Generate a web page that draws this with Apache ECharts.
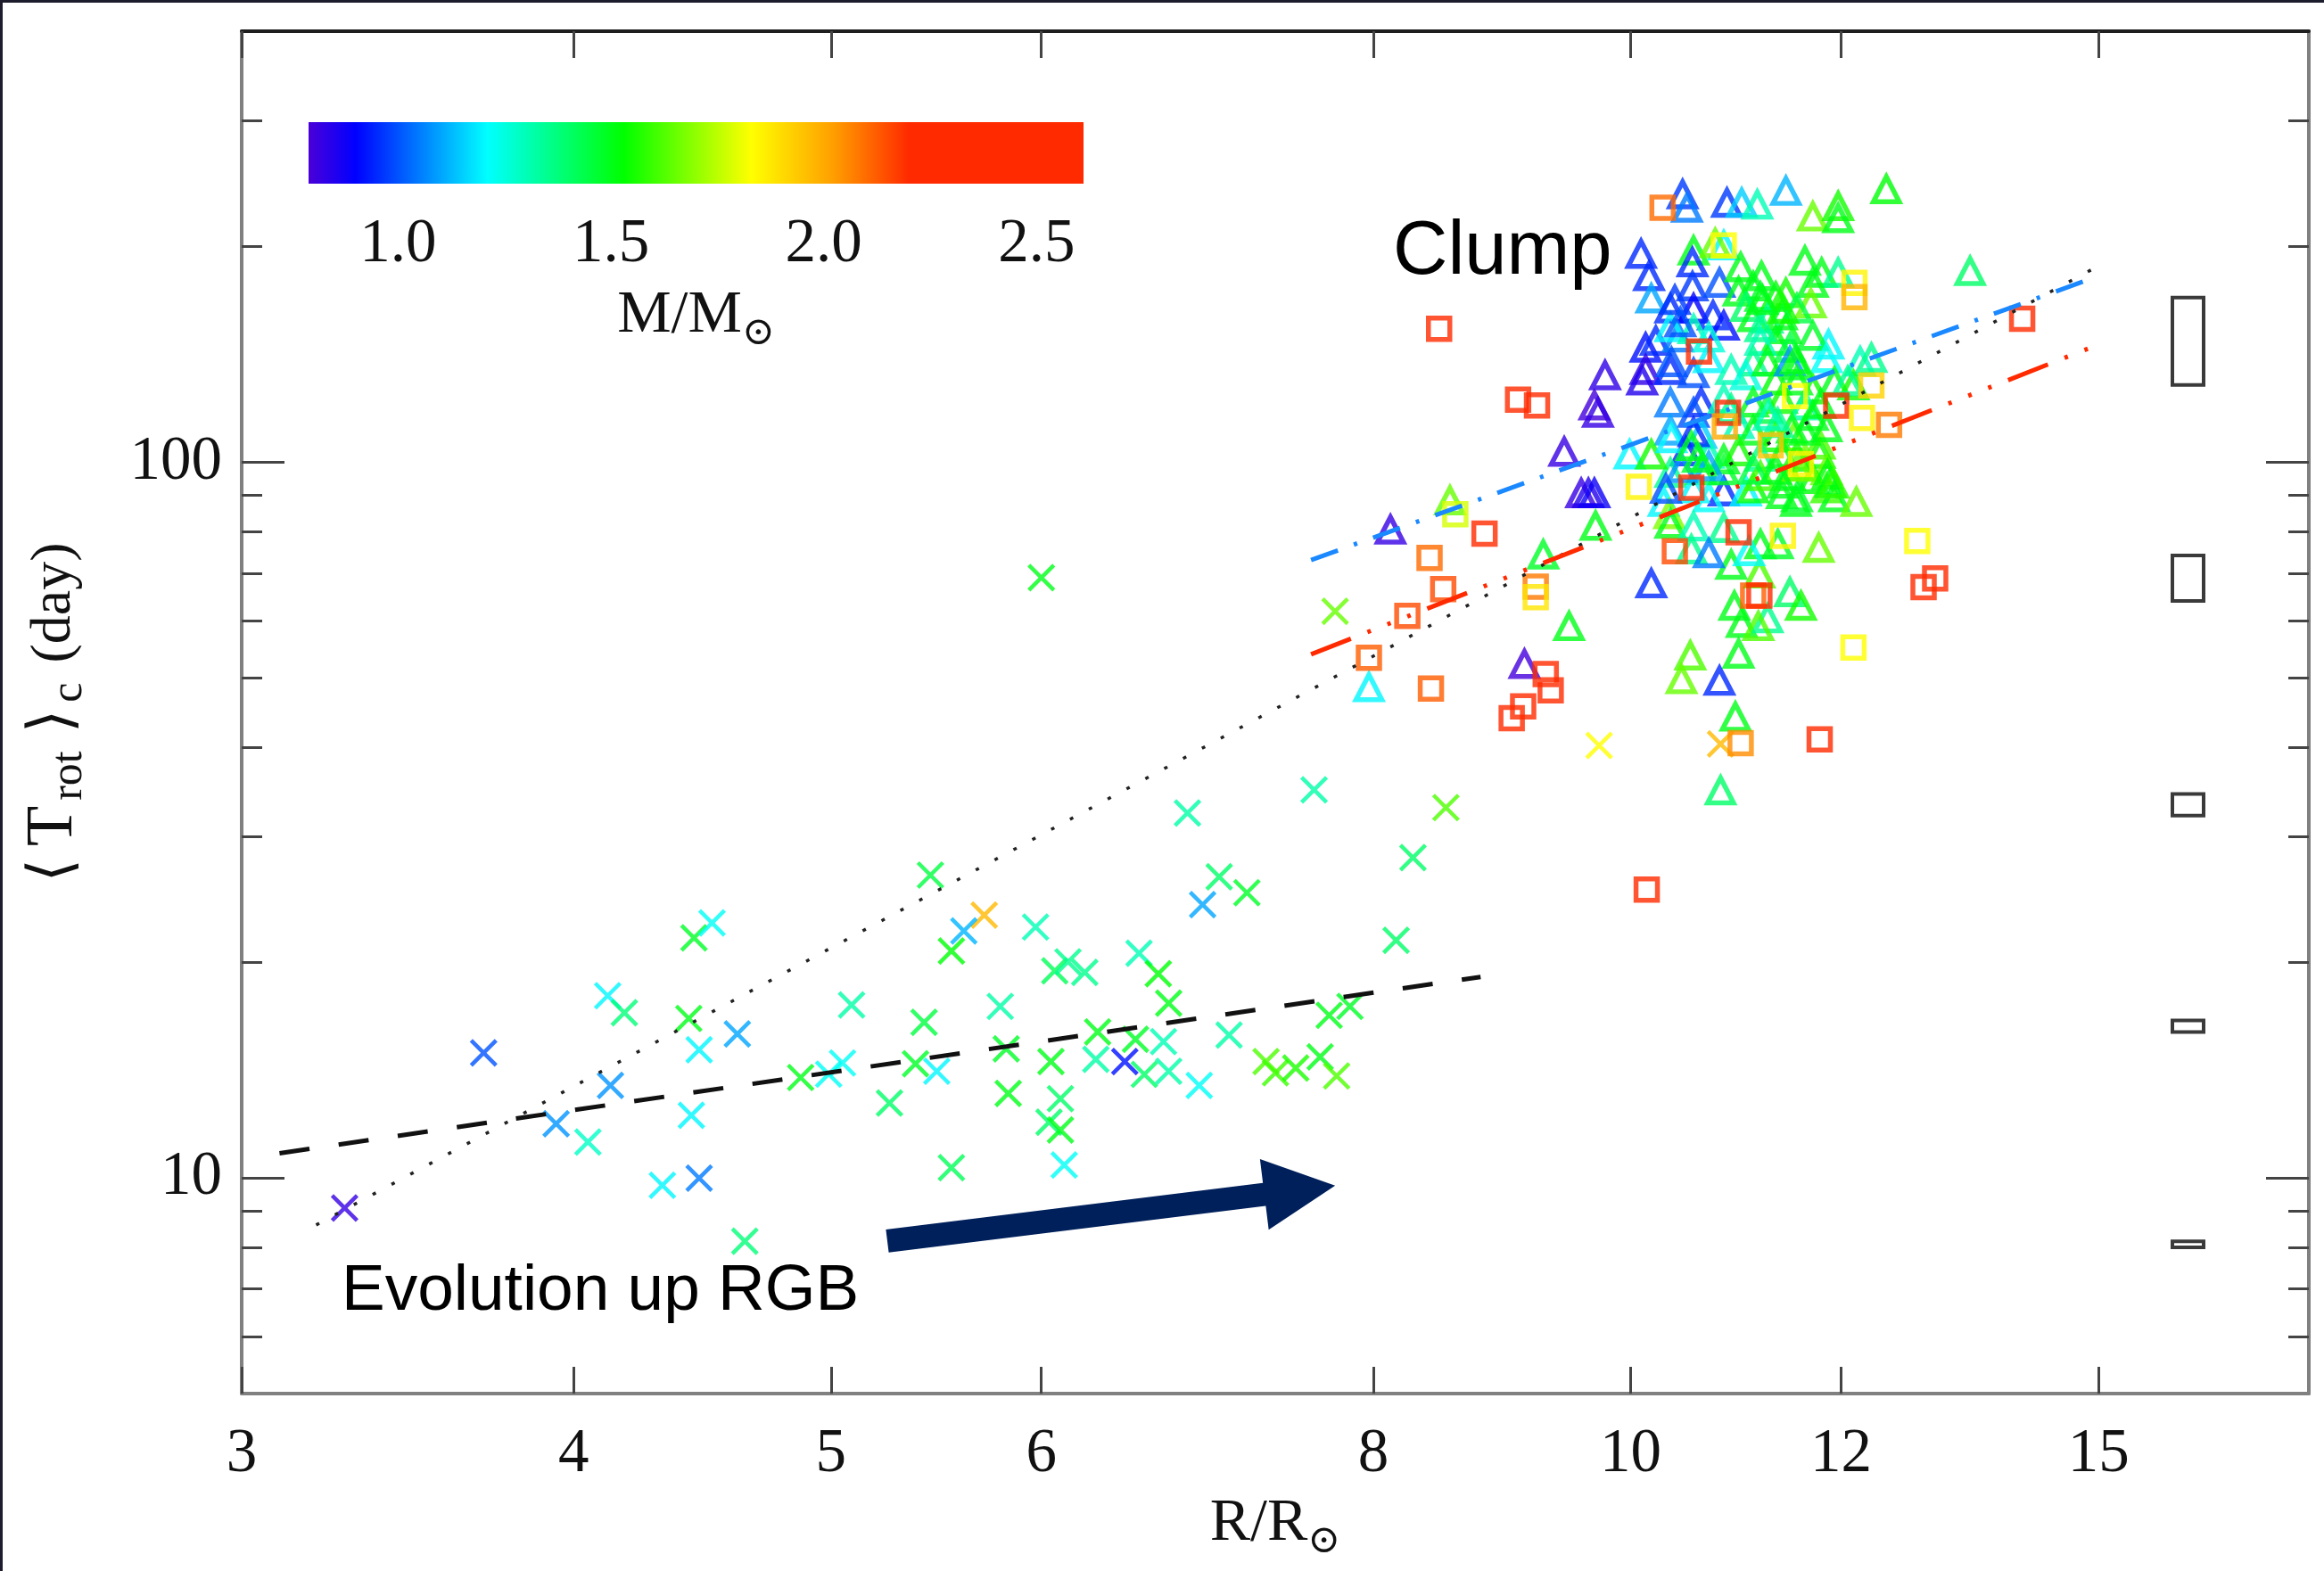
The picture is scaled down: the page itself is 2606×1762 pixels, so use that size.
<!DOCTYPE html>
<html>
<head>
<meta charset="utf-8">
<title>Core rotation period versus stellar radius</title>
<script src="https://cdn.jsdelivr.net/npm/echarts@6/dist/echarts.min.js"></script>
<style>
  html, body { margin: 0; padding: 0; background: #ffffff; }
  #chart { width: 2606px; height: 1762px; }
</style>
</head>
<body>
<div id="chart"></div>
<script>
// ---- data: [R/Rsun, <Trot>_c (day), M/Msun] ----
// red-giant-branch stars (crosses)
const rgbStars = [
  [3.28, 9.08, 0.82], [3.70, 14.96, 1.00], [4.12, 17.98, 1.20], [4.18, 17.02, 1.38], [4.13, 13.47, 1.08],
  [3.94, 11.91, 1.08], [4.05, 11.23, 1.28], [4.44, 21.65, 1.48], [4.51, 22.72, 1.22], [4.42, 16.71, 1.50],
  [4.46, 15.11, 1.20], [4.61, 15.90, 1.10], [4.43, 12.24, 1.20], [4.32, 9.77, 1.20], [4.46, 10.00, 1.05],
  [4.64, 8.16, 1.38], [4.87, 13.82, 1.50], [4.99, 13.97, 1.22], [5.05, 14.48, 1.22], [5.09, 17.45, 1.32],
  [5.45, 26.50, 1.45], [5.71, 23.30, 1.97], [5.61, 22.14, 1.12], [5.55, 20.76, 1.52], [5.97, 22.42, 1.30],
  [6.81, 32.35, 1.32], [7.60, 34.85, 1.32], [8.52, 32.93, 1.62], [8.28, 28.03, 1.40], [7.00, 26.36, 1.40],
  [7.17, 25.04, 1.48], [6.90, 24.10, 1.10], [8.16, 21.48, 1.40], [6.07, 19.48, 1.42], [6.14, 20.05, 1.35],
  [6.23, 19.38, 1.35], [6.53, 20.61, 1.30], [6.64, 19.29, 1.52], [6.70, 17.55, 1.50], [5.79, 17.37, 1.32],
  [5.42, 16.50, 1.45], [5.38, 14.44, 1.48], [5.48, 14.10, 1.20], [5.82, 15.15, 1.48], [6.05, 14.55, 1.50],
  [6.30, 16.00, 1.50], [6.29, 14.65, 1.32], [6.51, 15.63, 1.48], [6.45, 14.55, 0.92], [6.67, 15.51, 1.30],
  [6.56, 13.96, 1.40], [6.70, 14.10, 1.32], [7.06, 15.84, 1.32], [6.88, 13.47, 1.22], [7.70, 16.88, 1.50],
  [7.84, 17.37, 1.48], [7.29, 14.55, 1.62], [7.35, 14.03, 1.60], [7.48, 14.25, 1.56], [7.64, 14.77, 1.50],
  [7.75, 13.89, 1.62], [5.26, 12.73, 1.40], [5.83, 13.13, 1.50], [6.10, 12.91, 1.40], [6.04, 11.97, 1.40],
  [6.10, 11.67, 1.50], [5.55, 10.34, 1.42], [6.12, 10.43, 1.22], [6.00, 69.00, 1.50], [7.74, 61.90, 1.65],
  [9.73, 40.20, 1.83], [10.81, 40.40, 1.97]
];

// red-clump stars (triangles)
const clumpStars = [
  [10.46, 236.7, 0.97], [10.50, 226.7, 1.05], [10.87, 230.3, 0.97], [11.01, 230.3, 1.15], [11.16, 229.0, 1.30],
  [11.44, 239.3, 1.12], [11.71, 220.4, 1.65], [11.97, 227.8, 1.55], [11.97, 219.2, 1.50], [12.48, 240.6, 1.52],
  [10.09, 195.4, 0.95], [10.56, 197.5, 1.50], [10.84, 200.8, 1.20], [10.55, 190.1, 0.95], [11.63, 191.1, 1.50],
  [11.80, 183.9, 1.50], [11.97, 183.9, 1.35], [13.42, 184.9, 1.40], [10.16, 181.9, 0.95], [10.18, 169.3, 1.10],
  [10.55, 176.0, 0.97], [10.80, 178.0, 1.00], [10.98, 173.1, 1.50], [11.12, 176.0, 1.50], [11.19, 170.2, 1.48],
  [11.34, 170.2, 1.52], [11.44, 172.2, 1.55], [11.71, 178.0, 1.50], [11.69, 166.6, 1.65], [10.35, 163.9, 0.95],
  [10.56, 163.9, 0.90], [10.74, 160.3, 0.95], [10.84, 155.1, 0.92], [11.05, 164.8, 1.40], [11.12, 159.4, 1.50],
  [11.26, 158.6, 1.35], [11.40, 160.3, 1.50], [11.55, 163.9, 1.45], [11.87, 146.0, 1.20], [11.71, 150.1, 1.48],
  [11.44, 153.4, 1.50], [11.34, 147.7, 1.50], [11.48, 144.5, 1.45], [11.19, 154.4, 1.35], [11.19, 147.7, 1.30],
  [10.13, 144.5, 0.92], [10.22, 147.7, 0.95], [10.42, 149.3, 1.05], [10.35, 154.4, 1.20], [10.56, 153.4, 1.30],
  [10.70, 149.3, 1.25], [10.13, 134.5, 0.83], [10.10, 130.0, 0.85], [10.35, 134.5, 0.95], [10.56, 133.2, 1.00],
  [9.78, 132.2, 0.83], [10.70, 139.7, 1.20], [10.91, 134.5, 1.30], [11.12, 138.2, 1.35], [11.05, 132.2, 1.25],
  [11.26, 138.2, 1.50], [11.34, 130.0, 1.52], [11.48, 138.2, 1.08], [11.55, 130.0, 1.50], [11.71, 126.4, 1.55],
  [11.85, 139.7, 1.22], [12.20, 138.2, 1.30], [11.93, 129.4, 1.50], [12.13, 128.0, 1.55], [9.69, 120.0, 0.80],
  [9.72, 117.2, 0.82], [10.35, 121.1, 1.05], [10.63, 121.1, 0.95], [10.56, 117.2, 1.00], [10.84, 122.5, 1.30],
  [10.91, 118.6, 1.35], [11.12, 121.1, 1.50], [11.26, 118.6, 1.45], [11.40, 122.5, 1.55], [11.63, 120.0, 1.32],
  [11.71, 116.0, 1.50], [10.35, 110.7, 1.10], [10.63, 109.5, 1.15], [10.98, 113.0, 1.30], [11.12, 110.7, 1.50],
  [11.34, 108.3, 1.55], [11.52, 108.3, 1.65], [11.78, 105.8, 1.62], [11.63, 110.7, 1.50], [11.85, 111.9, 1.50],
  [10.49, 103.5, 0.95], [10.70, 102.7, 1.30], [10.84, 100.9, 1.50], [10.98, 103.5, 1.55], [11.19, 101.8, 1.35],
  [11.40, 102.7, 1.50], [11.55, 101.8, 1.55], [11.78, 102.7, 1.55], [11.85, 97.4, 1.65], [11.48, 95.6, 1.50],
  [11.71, 94.7, 1.52], [11.40, 90.2, 1.50], [11.55, 89.3, 1.48], [11.85, 91.9, 1.60], [11.93, 89.3, 1.50],
  [12.16, 88.0, 1.65], [10.84, 91.0, 0.95], [11.05, 91.0, 1.20], [10.35, 96.6, 1.35], [10.63, 97.4, 1.50],
  [10.56, 91.9, 1.20], [10.70, 89.3, 1.22], [11.12, 91.9, 1.52], [11.19, 95.6, 1.60], [10.84, 97.4, 1.48],
  [10.39, 168.5, 0.97], [10.44, 156.8, 1.00], [10.36, 137.9, 1.00], [9.44, 103.4, 0.82], [9.99, 102.5, 1.20],
  [10.18, 102.5, 1.55], [10.36, 108.0, 1.20], [10.45, 98.1, 1.08], [9.58, 90.5, 0.82], [9.64, 90.5, 0.85],
  [9.69, 90.5, 0.88], [8.55, 88.4, 1.65], [8.12, 80.5, 0.82], [9.70, 81.5, 1.50], [10.29, 88.0, 1.20],
  [10.34, 84.6, 1.68], [10.56, 110.1, 0.95], [10.70, 98.7, 1.10], [10.31, 91.8, 1.00], [11.12, 97.6, 1.45],
  [11.34, 97.6, 1.50], [11.63, 98.7, 1.65], [10.35, 82.0, 1.50], [10.56, 81.3, 1.30], [10.84, 80.9, 1.35],
  [11.19, 76.8, 1.50], [11.36, 76.8, 1.48], [11.77, 75.9, 1.65], [10.91, 71.9, 1.50], [11.18, 69.9, 1.62],
  [11.48, 65.8, 1.40], [11.59, 63.0, 1.55], [10.94, 63.0, 1.50], [11.01, 59.6, 1.50], [11.26, 60.5, 1.35],
  [11.17, 59.0, 1.62], [10.54, 75.5, 1.35], [10.70, 74.6, 1.05], [9.48, 59.0, 1.50], [10.53, 53.7, 1.62],
  [10.98, 54.0, 1.50], [10.45, 49.75, 1.65], [10.80, 49.5, 0.95], [10.95, 44.1, 1.50], [10.81, 34.8, 1.40],
  [9.12, 52.25, 0.80], [7.97, 48.5, 1.20], [9.27, 74.3, 1.48], [10.18, 67.7, 0.95], [11.89, 93.5, 1.50],
  [11.08, 75.1, 1.22], [12.32, 139.8, 1.35], [11.54, 139.2, 1.50], [11.41, 163.7, 1.55], [11.21, 168.5, 1.50],
  [11.00, 187.2, 1.50], [11.20, 181.9, 1.50], [10.76, 202.3, 1.65], [11.56, 136.5, 1.50], [12.07, 129.8, 1.35],
  [11.79, 120.6, 1.50], [11.50, 111.4, 1.50], [11.36, 113.4, 1.35], [11.27, 116.1, 1.30], [11.56, 98.5, 1.65],
  [11.86, 96.0, 1.52], [11.92, 93.3, 1.58], [11.41, 93.3, 1.50], [11.54, 88.0, 1.50], [10.54, 105.3, 1.50],
  [10.60, 101.4, 1.48]
];

// secondary-clump stars (squares)
const secondaryStars = [
  [10.28, 226.7, 2.10], [8.47, 153.6, 2.30], [9.07, 122.3, 2.30], [9.22, 120.0, 2.25], [10.07, 92.4, 1.85],
  [10.61, 142.8, 2.30], [10.84, 200.8, 1.83], [12.14, 178.0, 1.85], [12.14, 170.0, 1.98], [14.04, 158.6, 2.30],
  [12.32, 128.0, 1.92], [11.95, 119.9, 2.30], [12.22, 115.3, 1.85], [12.51, 112.8, 2.08], [10.88, 117.2, 2.30],
  [10.85, 112.2, 2.00], [11.29, 105.6, 1.95], [10.54, 92.1, 2.30], [8.81, 79.5, 2.30], [10.98, 79.8, 2.30],
  [11.41, 78.9, 1.85], [12.82, 77.6, 1.83], [8.40, 73.5, 2.10], [8.50, 66.5, 2.15], [8.24, 61.0, 2.15],
  [7.97, 53.3, 2.12], [8.41, 48.3, 2.12], [9.21, 67.0, 2.08], [9.21, 64.8, 1.88], [9.29, 50.6, 2.30],
  [9.33, 48.0, 2.30], [9.11, 45.6, 2.30], [9.02, 43.9, 2.30], [10.39, 75.1, 2.15], [12.89, 66.9, 2.30],
  [13.02, 68.8, 2.30], [11.12, 65.1, 2.12], [11.18, 65.1, 2.20], [12.13, 55.1, 1.83], [11.00, 40.5, 2.05],
  [11.78, 41.0, 2.30], [10.14, 25.3, 2.30], [11.53, 123.7, 1.83], [11.59, 99.4, 1.85], [8.59, 84.6, 1.78]
];

// power-law fits, end points [R, Trot]
const allStarsFit = [[3.2, 8.6], [15.0, 188]];
const rgbFit = [[3.1, 10.83], [8.78, 19.1]];
const lowMassClumpFit = [[7.58, 73.0], [15.0, 182]];
const highMassClumpFit = [[7.58, 53.9], [15.0, 146]];

// typical uncertainty boxes [R, low, high]
const errorBoxes = [
  [16.21, 128.2, 169.8], [16.21, 64.0, 74.1], [16.21, 32.1, 34.4], [16.21, 16.0, 16.6], [16.21, 8.0, 8.16]
];

// "evolution up the RGB" arrow: [R0, T0, R1, T1]
const evolutionArrow = [[5.25, 8.17, 7.74, 9.76]];

// axes
const xTicks = [3, 4, 5, 6, 8, 10, 12, 15];
const yMajorTicks = [10, 100];
const yMinorTicks = [6, 7, 8, 9, 20, 30, 40, 50, 60, 70, 80, 90, 200, 300];
const massTicks = [1.0, 1.5, 2.0, 2.5];
const massRange = [0.79, 2.61];

// colour table (mass -> colour)
const massStops = [0.79, 0.90, 1.21, 1.53, 1.83, 2.02, 2.20, 2.61];
const stopColors = ['#4a00d8', '#0000ff', '#00ffff', '#00ff00', '#ffff00', '#ffa000', '#ff2a00', '#ff2a00'];

function hexToRgb(h) {
  return [parseInt(h.slice(1, 3), 16), parseInt(h.slice(3, 5), 16), parseInt(h.slice(5, 7), 16)];
}
function massColor(m) {
  if (m <= massStops[0]) return stopColors[0];
  for (let i = 1; i < massStops.length; i++) {
    if (m <= massStops[i]) {
      const t = (m - massStops[i - 1]) / (massStops[i] - massStops[i - 1]);
      const a = hexToRgb(stopColors[i - 1]), b = hexToRgb(stopColors[i]);
      const c = a.map((v, k) => Math.round(v + (b[k] - v) * t));
      return 'rgb(' + c.join(',') + ')';
    }
  }
  return stopColors[stopColors.length - 1];
}

const SERIF = "'Liberation Serif', 'DejaVu Serif', 'Times New Roman', serif";
const SANS = "'Liberation Sans', Arial, Helvetica, sans-serif";
const TEXT = '#111111';
const AXIS_GREY = '#808080';
const TICK = '#444444';

const crossPath = 'path://M0,0L10,10M10,0L0,10';

function starItems(list, borderWidth) {
  return list.map(s => ({
    value: [s[0], s[1], s[2]],
    itemStyle: { color: 'rgba(0,0,0,0)', borderColor: massColor(s[2]), borderWidth: borderWidth }
  }));
}

const chart = echarts.init(document.getElementById('chart'), null, { renderer: 'canvas' });

const logY = { type: 'log', logBase: 10, min: 5, max: 400, gridIndex: 0, splitLine: { show: false }, minorTick: { show: false } };
const logX = { type: 'log', logBase: 10, min: 3, max: 18, gridIndex: 0, splitLine: { show: false }, minorTick: { show: false } };

const subRich = {
  m: { fontFamily: SERIF, fontSize: 68, lineHeight: 84, color: TEXT },
  s: { fontFamily: SERIF, fontSize: 44, lineHeight: 50, verticalAlign: 'bottom', color: TEXT }
};

const option = {
  animation: false,
  backgroundColor: '#ffffff',
  grid: [
    { left: 271, top: 35, width: 2318, height: 1528, containLabel: false },
    { left: 346, top: 137, width: 869, height: 69, containLabel: false }
  ],
  xAxis: [
    Object.assign({}, logX, {
      position: 'bottom',
      axisLine: { show: true, lineStyle: { color: AXIS_GREY, width: 4 } },
      axisTick: { show: true, inside: true, length: 30, customValues: xTicks, lineStyle: { color: TICK, width: 3 } },
      axisLabel: { show: true, customValues: xTicks, margin: 34, fontFamily: SERIF, fontSize: 69, color: TEXT,
        formatter: v => String(Math.round(v)) },
      name: '{m|R/R}{s|\u2299}',
      nameLocation: 'middle',
      nameGap: 104,
      nameTextStyle: { rich: { m: Object.assign({}, subRich.m, { fontSize: 68 }), s: subRich.s } }
    }),
    Object.assign({}, logX, {
      position: 'top',
      axisLine: { show: true, lineStyle: { color: '#1e1e1e', width: 4 } },
      axisTick: { show: true, inside: true, length: 30, customValues: xTicks, lineStyle: { color: TICK, width: 3 } },
      axisLabel: { show: false }
    }),
    {
      type: 'value', gridIndex: 1, min: massRange[0], max: massRange[1],
      axisLine: { show: false }, axisTick: { show: false }, splitLine: { show: false },
      axisLabel: { show: true, customValues: massTicks, margin: 34, fontFamily: SERIF, fontSize: 69, color: TEXT,
        formatter: v => Number(v).toFixed(1) },
      name: '{m|M/M}{s|\u2299}',
      nameLocation: 'middle',
      nameGap: 106,
      nameTextStyle: { rich: subRich }
    }
  ],
  yAxis: [
    Object.assign({}, logY, {
      position: 'left',
      axisLine: { show: true, lineStyle: { color: AXIS_GREY, width: 4 } },
      axisTick: { show: true, inside: true, length: 48, customValues: yMajorTicks, lineStyle: { color: TICK, width: 3 } },
      axisLabel: { show: true, customValues: yMajorTicks, margin: 22, fontFamily: SERIF, fontSize: 69, color: TEXT,
        formatter: v => String(Math.round(v)) },
      name: '{a|\u27E8}{t|T}{s|rot}{a2|\u27E9}{c|c}{d|(day)}',
      nameLocation: 'middle',
      nameRotate: 90,
      nameGap: 168,
      nameTextStyle: {
        rich: {
          a: { fontFamily: SERIF, fontSize: 68, lineHeight: 84, color: TEXT, padding: [0, 14, 0, 0] },
          t: { fontFamily: SERIF, fontSize: 74, lineHeight: 84, color: TEXT, padding: [0, 6, 0, 0] },
          s: { fontFamily: SERIF, fontSize: 50, lineHeight: 52, verticalAlign: 'bottom', color: TEXT, padding: [0, 14, 0, 0] },
          a2: { fontFamily: SERIF, fontSize: 68, lineHeight: 84, color: TEXT, padding: [0, 8, 0, 6] },
          c: { fontFamily: SERIF, fontSize: 50, lineHeight: 52, verticalAlign: 'bottom', color: TEXT, padding: [0, 22, 0, 0] },
          d: { fontFamily: SERIF, fontSize: 64, lineHeight: 84, color: TEXT }
        }
      }
    }),
    Object.assign({}, logY, {
      position: 'left',
      axisLine: { show: false },
      axisTick: { show: true, inside: true, length: 23, customValues: yMinorTicks, lineStyle: { color: TICK, width: 3 } },
      axisLabel: { show: false }
    }),
    Object.assign({}, logY, {
      position: 'right',
      axisLine: { show: true, lineStyle: { color: AXIS_GREY, width: 4 } },
      axisTick: { show: true, inside: true, length: 48, customValues: yMajorTicks, lineStyle: { color: TICK, width: 3 } },
      axisLabel: { show: false }
    }),
    Object.assign({}, logY, {
      position: 'right',
      axisLine: { show: false },
      axisTick: { show: true, inside: true, length: 23, customValues: yMinorTicks, lineStyle: { color: TICK, width: 3 } },
      axisLabel: { show: false }
    }),
    { type: 'value', gridIndex: 1, min: 0, max: 1, show: false }
  ],
  series: [
    {
      name: 'RGB', type: 'scatter', xAxisIndex: 0, yAxisIndex: 0,
      symbol: crossPath, symbolSize: 28, data: starItems(rgbStars, 4.5), z: 2, silent: true
    },
    {
      name: 'Clump', type: 'scatter', xAxisIndex: 0, yAxisIndex: 0,
      symbol: 'triangle', symbolSize: [29, 28], data: starItems(clumpStars, 5.5), z: 2, silent: true
    },
    {
      name: 'Secondary clump', type: 'scatter', xAxisIndex: 0, yAxisIndex: 0,
      symbol: 'rect', symbolSize: 24, data: starItems(secondaryStars, 5.5), z: 3, silent: true
    },
    {
      type: 'line', xAxisIndex: 0, yAxisIndex: 0, data: allStarsFit, symbol: 'none', silent: true, z: 5,
      lineStyle: { color: '#222222', width: 3.5, type: [4, 20], cap: 'butt' }
    },
    {
      type: 'line', xAxisIndex: 0, yAxisIndex: 0, data: rgbFit, symbol: 'none', silent: true, z: 5,
      lineStyle: { color: '#111111', width: 5, type: [34, 33], cap: 'butt' }
    },
    {
      type: 'line', xAxisIndex: 0, yAxisIndex: 0, data: lowMassClumpFit, symbol: 'none', silent: true, z: 5,
      lineStyle: { color: '#1a88ff', width: 5, type: [32, 19, 4, 19], cap: 'butt' }
    },
    {
      type: 'line', xAxisIndex: 0, yAxisIndex: 0, data: highMassClumpFit, symbol: 'none', silent: true, z: 5,
      lineStyle: { color: '#ff2a00', width: 5, type: [48, 20, 4, 20, 4, 20, 4, 20], cap: 'butt' }
    },
    {
      type: 'custom', xAxisIndex: 0, yAxisIndex: 0, data: errorBoxes, silent: true, z: 4,
      renderItem: function (params, api) {
        const top = api.coord([api.value(0), api.value(2)]);
        const bot = api.coord([api.value(0), api.value(1)]);
        return {
          type: 'rect',
          shape: { x: top[0] - 17.5, y: top[1], width: 35, height: bot[1] - top[1] },
          style: { fill: 'none', stroke: '#3a3a3a', lineWidth: 4 }
        };
      }
    },
    {
      type: 'custom', xAxisIndex: 0, yAxisIndex: 0, data: evolutionArrow, silent: true, z: 4,
      renderItem: function (params, api) {
        const p0 = api.coord([api.value(0), api.value(1)]);
        const p1 = api.coord([api.value(2), api.value(3)]);
        const dx = p1[0] - p0[0], dy = p1[1] - p0[1];
        const len = Math.hypot(dx, dy);
        const ux = dx / len, uy = dy / len, nx = -uy, ny = ux;
        const half = 13, headLen = 80, headHalf = 40;
        const bx = p1[0] - ux * headLen, by = p1[1] - uy * headLen;
        return {
          type: 'polygon',
          shape: { points: [
            [p0[0] + nx * half, p0[1] + ny * half],
            [bx + nx * half, by + ny * half],
            [bx + nx * headHalf, by + ny * headHalf],
            [p1[0], p1[1]],
            [bx - nx * headHalf, by - ny * headHalf],
            [bx - nx * half, by - ny * half],
            [p0[0] - nx * half, p0[1] - ny * half]
          ] },
          style: { fill: '#00205b' }
        };
      }
    },
    {
      // colour bar
      type: 'line', xAxisIndex: 2, yAxisIndex: 4, data: [[massRange[0], 1], [massRange[1], 1]],
      symbol: 'none', silent: true, lineStyle: { width: 0 },
      areaStyle: {
        opacity: 1,
        color: new echarts.graphic.LinearGradient(0, 0, 1, 0, massStops.map((m, i) => ({
          offset: (m - massRange[0]) / (massRange[1] - massRange[0]),
          color: stopColors[i]
        })))
      }
    }
  ],
  graphic: [
    { type: 'rect', shape: { x: 0, y: 0, width: 3, height: 1762 }, style: { fill: '#1c1c2c' }, silent: true },
    { type: 'rect', shape: { x: 0, y: 0, width: 2606, height: 3 }, style: { fill: '#1c1c2c' }, silent: true },
    {
      type: 'text', x: 1562, y: 284, silent: true,
      style: { text: 'Clump', fontFamily: SANS, fontSize: 85, fill: '#000000', align: 'left', verticalAlign: 'middle' }
    },
    {
      type: 'text', x: 383, y: 1449, silent: true,
      style: { text: 'Evolution up RGB', fontFamily: SANS, fontSize: 73, fill: '#000000', align: 'left', verticalAlign: 'middle' }
    }
  ]
};

chart.setOption(option);
</script>
</body>
</html>
